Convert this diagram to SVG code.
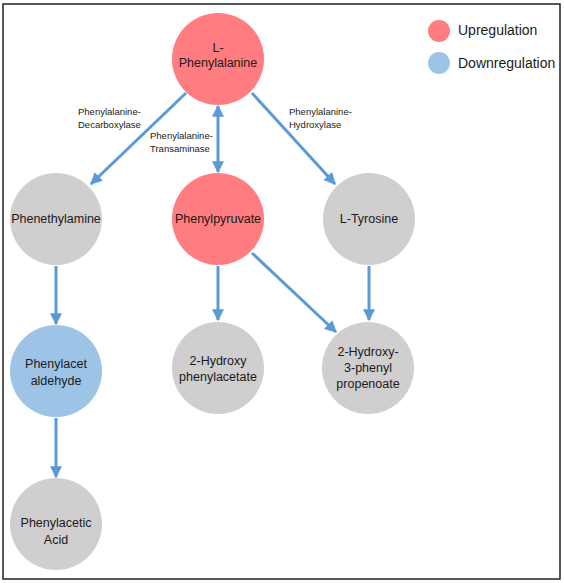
<svg xmlns="http://www.w3.org/2000/svg" width="564" height="583" viewBox="0 0 564 583">
<defs>
<marker id="ah" viewBox="0 0 10 10" refX="9" refY="5" markerWidth="4" markerHeight="4" markerUnits="strokeWidth" orient="auto-start-reverse">
<path d="M0,0 L10,5 L0,10 z" fill="#5B9BD5"/>
</marker>
<style>
.up{fill:#FF7C80}
.down{fill:#9DC3E6}
.none{fill:#D0CECE}
.t{font-family:"Liberation Sans",Arial,sans-serif;font-size:12.5px;fill:#1a1a1a;text-anchor:middle}
.e{font-family:"Liberation Sans",Arial,sans-serif;font-size:9.5px;fill:#1a1a1a}
.lg{font-family:"Liberation Sans",Arial,sans-serif;font-size:14px;fill:#1a1a1a}
.c{stroke:#5B9BD5;stroke-width:3;fill:none;marker-end:url(#ah)}
</style>
</defs>
<rect x="3" y="4" width="557" height="575" fill="#fff" stroke="#222" stroke-width="1.5"/>
<g id="legend">
<circle class="up" cx="439" cy="31" r="11"/>
<text class="lg" x="458" y="35">Upregulation</text>
<circle class="down" cx="439" cy="63" r="11"/>
<text class="lg" x="458" y="68">Downregulation</text>
</g>
<g id="connectors">
<line class="c" x1="186" y1="93" x2="91" y2="184"/>
<line class="c" x1="252" y1="93" x2="335" y2="184"/>
<line class="c" x1="218" y1="106" x2="218" y2="172" style="marker-start:url(#ah)"/>
<line class="c" x1="56" y1="266" x2="56" y2="324"/>
<line class="c" x1="56" y1="418" x2="56" y2="477"/>
<line class="c" x1="218" y1="266" x2="218" y2="320"/>
<line class="c" x1="252" y1="253" x2="336" y2="332"/>
<line class="c" x1="369" y1="266" x2="369" y2="320"/>
<text class="e" x="78" y="115">Phenylalanine-</text>
<text class="e" x="78" y="128">Decarboxylase</text>
<text class="e" x="150" y="139">Phenylalanine-</text>
<text class="e" x="150" y="152">Transaminase</text>
<text class="e" x="289" y="115">Phenylalanine-</text>
<text class="e" x="289" y="128">Hydroxylase</text>
</g>
<g id="n-lphe">
<circle class="up" cx="218" cy="59" r="46"/>
<text class="t" x="218" y="52">L-</text>
<text class="t" x="218" y="67">Phenylalanine</text>
</g>
<g id="n-phenethylamine">
<circle class="none" cx="56" cy="219" r="46"/>
<text class="t" x="56" y="223">Phenethylamine</text>
</g>
<g id="n-phenylpyruvate">
<circle class="up" cx="218" cy="219" r="46"/>
<text class="t" x="218" y="223">Phenylpyruvate</text>
</g>
<g id="n-ltyrosine">
<circle class="none" cx="369" cy="219" r="46"/>
<text class="t" x="369" y="223">L-Tyrosine</text>
</g>
<g id="n-phenylacetaldehyde">
<circle class="down" cx="56" cy="371" r="46"/>
<text class="t" x="56" y="368">Phenylacet</text>
<text class="t" x="56" y="385">aldehyde</text>
</g>
<g id="n-hydroxyphenylacetate">
<circle class="none" cx="218" cy="368" r="46"/>
<text class="t" x="218" y="365">2-Hydroxy</text>
<text class="t" x="218" y="381">phenylacetate</text>
</g>
<g id="n-propenoate">
<circle class="none" cx="368" cy="368" r="46"/>
<text class="t" x="368" y="356">2-Hydroxy-</text>
<text class="t" x="368" y="372">3-phenyl</text>
<text class="t" x="368" y="388">propenoate</text>
</g>
<g id="n-phenylacetic">
<circle class="none" cx="56" cy="524" r="46"/>
<text class="t" x="56" y="527">Phenylacetic</text>
<text class="t" x="56" y="544">Acid</text>
</g>
</svg>
